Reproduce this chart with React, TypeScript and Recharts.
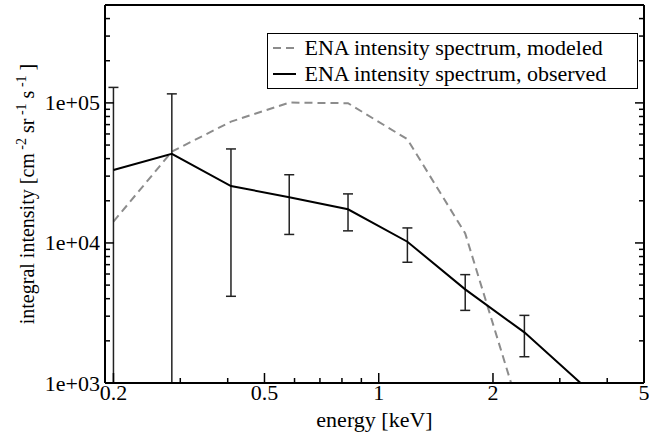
import React from "react";
import { LineChart, Line, XAxis, YAxis, ErrorBar, Legend } from "recharts";

// energy bins [keV]
const energy = [0.2, 0.285, 0.408, 0.581, 0.83, 1.19, 1.69, 2.42, 3.46];
// integral intensity, modeled (dashed)
const modeled = [14200, 44900, 73500, 100500, 99500, 55000, 11700, 490, null];
// integral intensity, observed (solid) with error bounds
const observed = [33200, 43300, 25500, 21200, 17400, 10200, 4660, 2300, 960];
const obsLow = [300, 300, 4160, 11500, 12200, 7280, 3300, 1540, null];
const obsHigh = [129000, 116000, 46900, 30700, 22400, 12800, 5940, 3040, null];

const xTicks = [0.2, 0.3, 0.4, 0.5, 0.6, 0.7, 0.8, 0.9, 1, 2, 3, 4, 5];
const xMajor = [0.2, 0.5, 1, 2, 5];
const yTicks = [
  1000, 2000, 3000, 4000, 5000, 6000, 7000, 8000, 9000,
  10000, 20000, 30000, 40000, 50000, 60000, 70000, 80000, 90000,
  100000, 200000, 300000, 400000, 500000,
];
const yMajor = [1000, 10000, 100000];
const yLabels: Record<number, string> = { 1000: "1e+03", 10000: "1e+04", 100000: "1e+05" };

const data = energy.map((e, i) => ({
  energy: e,
  modeled: modeled[i],
  observed: observed[i],
  err:
    obsHigh[i] == null || obsLow[i] == null
      ? null
      : [observed[i] - (obsLow[i] as number), (obsHigh[i] as number) - observed[i]],
}));

const FONT = "'Liberation Serif', 'Times New Roman', serif";
const W = 649;
const H = 434;
// axis band sizes -> plot area
const LEFT_W = 105;
const RIGHT_W = 5;
const TOP_H = 5;
const BOTTOM_H = 51;

const BottomTick = ({ x, y, payload }: any) => {
  const major = xMajor.includes(payload.value);
  return (
    <g>
      <line x1={x} x2={x} y1={y} y2={y - (major ? 10 : 5)} stroke="#000" strokeWidth={1.5} />
      {major && (
        <text x={x} y={y + 17} textAnchor="middle" fontSize={22} fill="#000" fontFamily={FONT}>
          {payload.value}
        </text>
      )}
    </g>
  );
};

const TopTick = ({ x, y, payload }: any) => {
  const major = xMajor.includes(payload.value);
  return <line x1={x} x2={x} y1={y} y2={y + (major ? 10 : 5)} stroke="#000" strokeWidth={1.5} />;
};

const LeftTick = ({ x, y, payload }: any) => {
  const major = yMajor.includes(payload.value);
  return (
    <g>
      <line x1={x} x2={x + (major ? 9 : 5)} y1={y} y2={y} stroke="#000" strokeWidth={1.5} />
      {major && (
        <text x={x - 5} y={y + 7.5} textAnchor="end" fontSize={22} fill="#000" fontFamily={FONT}>
          {yLabels[payload.value]}
        </text>
      )}
    </g>
  );
};

const RightTick = ({ x, y, payload }: any) => {
  const major = yMajor.includes(payload.value);
  return <line x1={x} x2={x - (major ? 9 : 5)} y1={y} y2={y} stroke="#000" strokeWidth={1.5} />;
};

const YTitle = () => (
  <text
    transform={`translate(34,${TOP_H + (H - TOP_H - BOTTOM_H) / 2}) rotate(-90)`}
    textAnchor="middle"
    fontSize={20}
    fill="#000"
    fontFamily={FONT}
  >
    integral intensity [cm
    <tspan dy={-8} fontSize={14}> -2</tspan>
    <tspan dy={8}> sr</tspan>
    <tspan dy={-8} fontSize={14}> -1</tspan>
    <tspan dy={8}> s</tspan>
    <tspan dy={-8} fontSize={14}> -1</tspan>
    <tspan dy={8}> ]</tspan>
  </text>
);

const XTitle = () => (
  <text
    x={LEFT_W + (W - LEFT_W - RIGHT_W) / 2}
    y={427}
    textAnchor="middle"
    fontSize={22}
    fill="#000"
    fontFamily={FONT}
  >
    energy [keV]
  </text>
);

const LegendBox = () => (
  <div
    style={{
      boxSizing: "border-box",
      width: 371,
      height: 56,
      border: "1.5px solid #000",
      background: "#fff",
      fontFamily: FONT,
      fontSize: 22,
      lineHeight: "26px",
      paddingTop: 1,
      whiteSpace: "nowrap",
      color: "#000",
    }}
  >
    <div style={{ display: "flex", alignItems: "center", height: 26 }}>
      <svg width={23} height={4} style={{ marginLeft: 4.5 }}>
        <line x1={0} x2={23} y1={2} y2={2} stroke="#8c8c8c" strokeWidth={2} strokeDasharray="8 5" />
      </svg>
      <span style={{ marginLeft: 9 }}>ENA intensity spectrum, modeled</span>
    </div>
    <div style={{ display: "flex", alignItems: "center", height: 26 }}>
      <svg width={23} height={4} style={{ marginLeft: 4.5 }}>
        <line x1={0} x2={23} y1={2} y2={2} stroke="#000" strokeWidth={2} />
      </svg>
      <span style={{ marginLeft: 9 }}>ENA intensity spectrum, observed</span>
    </div>
  </div>
);

export default function App() {
  return (
    <div style={{ position: "absolute", left: 0, top: 0, background: "#fff", fontFamily: FONT }}>
      {/* error bars that run off the log axis get clipped to the plot area */}
      <style>{`.recharts-errorBars, .recharts-errorBar { clip-path: url(#plotClip); }`}</style>
      <svg width={0} height={0} style={{ position: "absolute" }}>
        <defs>
          <clipPath id="plotClip" clipPathUnits="userSpaceOnUse">
            <rect x={LEFT_W} y={TOP_H} width={W - LEFT_W - RIGHT_W} height={H - TOP_H - BOTTOM_H} />
          </clipPath>
        </defs>
      </svg>
      <LineChart width={W} height={H} data={data} margin={{ top: 0, right: 0, bottom: 0, left: 0 }}>
        <XAxis
          dataKey="energy"
          type="number"
          scale="log"
          domain={[0.19, 5]}
          allowDataOverflow
          ticks={xTicks}
          interval={0}
          height={BOTTOM_H}
          tickSize={0}
          tickMargin={0}
          tickLine={false}
          axisLine={{ stroke: "#000", strokeWidth: 2 }}
          tick={<BottomTick />}
          label={<XTitle />}
        />
        <XAxis
          xAxisId="top"
          orientation="top"
          type="number"
          scale="log"
          domain={[0.19, 5]}
          allowDataOverflow
          ticks={xTicks}
          interval={0}
          height={TOP_H}
          tickSize={0}
          tickMargin={0}
          tickLine={false}
          axisLine={{ stroke: "#000", strokeWidth: 2 }}
          tick={<TopTick />}
        />
        <YAxis
          type="number"
          scale="log"
          domain={[1000, 500000]}
          allowDataOverflow
          ticks={yTicks}
          interval={0}
          width={LEFT_W}
          tickSize={0}
          tickMargin={0}
          tickLine={false}
          axisLine={{ stroke: "#000", strokeWidth: 2 }}
          tick={<LeftTick />}
          label={<YTitle />}
        />
        <YAxis
          yAxisId="right"
          orientation="right"
          type="number"
          scale="log"
          domain={[1000, 500000]}
          allowDataOverflow
          ticks={yTicks}
          interval={0}
          width={RIGHT_W}
          tickSize={0}
          tickMargin={0}
          tickLine={false}
          axisLine={{ stroke: "#000", strokeWidth: 2 }}
          tick={<RightTick />}
        />
        <Legend
          layout="vertical"
          align="center"
          verticalAlign="middle"
          wrapperStyle={{ left: 267, top: 33, width: 371, height: 56 }}
          content={() => <LegendBox />}
        />
        <Line
          dataKey="modeled"
          type="linear"
          stroke="#8c8c8c"
          strokeWidth={2}
          strokeDasharray="8 5"
          dot={false}
          isAnimationActive={false}
        />
        <Line
          dataKey="observed"
          type="linear"
          stroke="#000"
          strokeWidth={2}
          dot={false}
          isAnimationActive={false}
        >
          <ErrorBar dataKey="err" width={5} stroke="#222" strokeWidth={1.5} direction="y" />
        </Line>
      </LineChart>
    </div>
  );
}
